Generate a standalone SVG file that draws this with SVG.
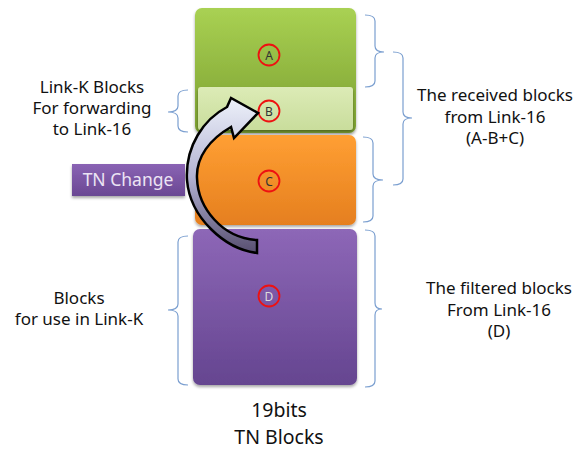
<svg xmlns="http://www.w3.org/2000/svg" width="582" height="450" viewBox="0 0 582 450">
<defs>
<linearGradient id="gA" x1="0" y1="0" x2="0" y2="1"><stop offset="0" stop-color="#a9d153"/><stop offset="1" stop-color="#7b9f30"/></linearGradient>
<linearGradient id="gB" x1="0" y1="0" x2="0" y2="1"><stop offset="0" stop-color="#dcebb6"/><stop offset="1" stop-color="#c9dd9c"/></linearGradient>
<linearGradient id="gC" x1="0" y1="0" x2="0" y2="1"><stop offset="0" stop-color="#ff9f33"/><stop offset="1" stop-color="#e57f1f"/></linearGradient>
<linearGradient id="gD" x1="0" y1="0" x2="0" y2="1"><stop offset="0" stop-color="#8d67b7"/><stop offset="1" stop-color="#654590"/></linearGradient>
<linearGradient id="gT" x1="0" y1="0" x2="0" y2="1"><stop offset="0" stop-color="#8a63b4"/><stop offset="1" stop-color="#6a4893"/></linearGradient>
<linearGradient id="gArrow" gradientUnits="userSpaceOnUse" x1="0" y1="98" x2="0" y2="255"><stop offset="0" stop-color="#edf1fa"/><stop offset="0.5" stop-color="#b3b3d3"/><stop offset="1" stop-color="#554c6e"/></linearGradient>
<filter id="sh" x="-10%" y="-10%" width="120%" height="125%"><feDropShadow dx="0" dy="2" stdDeviation="1.5" flood-color="#000" flood-opacity="0.35"/></filter>
</defs>
<style>
.lbl{font-family:"Noto Sans","Open Sans","DejaVu Sans",sans-serif;font-size:17px;fill:#111;text-anchor:middle}
.big{font-family:"Noto Sans","Open Sans","DejaVu Sans",sans-serif;font-size:19.5px;fill:#111;text-anchor:middle}
.let{font-family:"Noto Sans","DejaVu Sans",sans-serif;font-size:12px;fill:#333;text-anchor:middle}
.ring{fill:none;stroke:#ee1111;stroke-width:1.8}
.brace{fill:none;stroke:#7b9fd0;stroke-width:1.2}
</style>
<g id="blockA"><rect x="195" y="8" width="161" height="125" rx="7" fill="url(#gA)" filter="url(#sh)"/><circle class="ring" cx="269" cy="55" r="10.5"/><text class="let" x="269" y="59.5">A</text></g>
<g id="blockB"><rect x="198" y="87" width="155" height="43" rx="3" fill="url(#gB)" filter="url(#sh)"/><circle class="ring" cx="269" cy="111" r="10.5"/><text class="let" x="269" y="115.5">B</text></g>
<g id="blockC"><rect x="195" y="135" width="161" height="90" rx="7" fill="url(#gC)" filter="url(#sh)"/><circle class="ring" cx="269" cy="181" r="10.5"/><text class="let" x="269" y="185.5">C</text></g>
<g id="blockD"><rect x="193" y="229" width="164" height="156" rx="7" fill="url(#gD)" filter="url(#sh)"/><circle class="ring" cx="269" cy="296" r="10.5"/><text class="let" x="269" y="300.5" style="fill:#ddd">D</text></g>
<g id="tnchange"><rect x="72" y="164" width="113" height="32" fill="url(#gT)" filter="url(#sh)"/><text x="128" y="186" style="font-family:'Noto Sans','Open Sans',sans-serif;font-size:17.5px;fill:#ece4f4;text-anchor:middle">TN Change</text></g>
<g id="connectors">
<path d="M257,240 L257,253 C225,249 190,218 187,180 C185,146 204,119 227,107 L231,98 L258,113 L234,138 L231,127 C210,139 196,157 197,178 C198,208 222,238 257,240 Z" fill="url(#gArrow)" stroke="#000" stroke-width="2.5" stroke-linejoin="miter"/>
<path class="brace" d="M188,90 Q178,90 178,96 L178,106 Q178,112 168,112 Q178,112 178,118 L178,126 Q178,132 188,132"/>
<path class="brace" d="M188,236 Q178,236 178,242 L178,304 Q178,310 168,310 Q178,310 178,316 L178,379 Q178,385 188,385"/>
<path class="brace" d="M365,15 Q375,15 375,21 L375,46 Q375,52 384,52 Q375,52 375,58 L375,81 Q375,87 365,87"/>
<path class="brace" d="M363,137 Q373,137 373,143 L373,174 Q373,180 383,180 Q373,180 373,186 L373,216 Q373,222 363,222"/>
<path class="brace" d="M393,52 Q403,52 403,58 L403,112 Q403,118 412,118 Q403,118 403,124 L403,179 Q403,185 393,185"/>
<path class="brace" d="M365,230 Q375,230 375,236 L375,303 Q375,309 382,309 Q375,309 375,315 L375,381 Q375,387 365,387"/>
</g>
<g id="labels">
<text class="lbl" x="92" y="93">Link-K Blocks</text>
<text class="lbl" x="92" y="114">For forwarding</text>
<text class="lbl" x="92" y="135">to Link-16</text>
<text class="lbl" x="79" y="304">Blocks</text>
<text class="lbl" x="79" y="325">for use in Link-K</text>
<text class="lbl" x="495" y="101">The received blocks</text>
<text class="lbl" x="495" y="123">from Link-16</text>
<text class="lbl" x="495" y="144">(A-B+C)</text>
<text class="lbl" x="499" y="294">The filtered blocks</text>
<text class="lbl" x="499" y="316">From Link-16</text>
<text class="lbl" x="499" y="337">(D)</text>
<text class="big" x="279" y="417">19bits</text>
<text class="big" x="279" y="444">TN Blocks</text>
</g>
</svg>
